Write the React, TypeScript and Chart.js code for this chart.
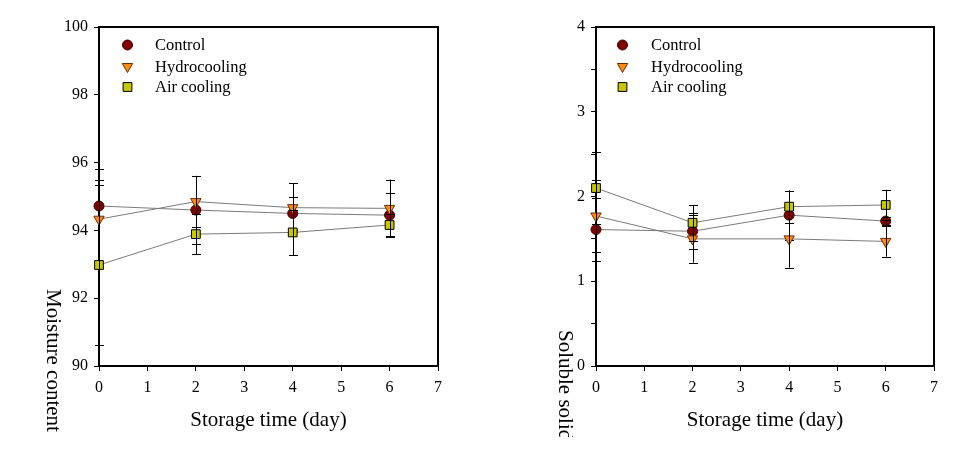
import React, { useEffect, useRef } from 'react';
import { Chart, registerables } from 'chart.js';

Chart.register(...registerables);

// ---- data ----
const days = [0, 2, 4, 6];
const seriesNames = ['Control', 'Hydrocooling', 'Air cooling'];
const xTicks = [0, 1, 2, 3, 4, 5, 6, 7];

// Moisture content
const moistControl = [94.72, 94.6, 94.5, 94.45];
const moistControlErrUp = [1.08, 0.99, 0.48, 0.65];
const moistControlErrDown = [0, 0.99, 0.48, 0.65];
const moistHydro = [94.33, 94.85, 94.67, 94.65];
const moistHydroErrUp = [1.16, 0.76, 0.72, 0.85];
const moistHydroErrDown = [0, 0.76, 0.72, 0.85];
const moistAir = [92.98, 93.89, 93.94, 94.16];
const moistAirErrUp = [2.37, 0.59, 0.67, 0.32];
const moistAirErrDown = [2.37, 0.59, 0.67, 0.32];
const moistTicks = [90, 92, 94, 96, 98, 100];

// Soluble solids
const solControl = [1.61, 1.59, 1.78, 1.71];
const solControlErr = [0.37, 0.21, 0.29, 0.05];
const solHydro = [1.77, 1.5, 1.5, 1.47];
const solHydroErr = [0.42, 0.28, 0.34, 0.18];
const solAir = [2.1, 1.69, 1.88, 1.9];
const solAirErr = [0.42, 0.21, 0.19, 0.18];
const solTicks = [0, 1, 2, 3, 4];

const xTitle = 'Storage time (day)';
const moistYTitle = 'Moisture content';
const solYTitle = 'Soluble solids';

// ---- styles ----
const SERIF = "'Liberation Serif', 'Times New Roman', serif";
const styles = [
  { fill: '#800000', border: '#3a0000', pointStyle: 'circle', radius: 5, rotation: 0 },
  { fill: '#ff8a14', border: '#6a3000', pointStyle: 'triangle', radius: 6, rotation: 180 },
  { fill: '#c8c800', border: '#000000', pointStyle: 'rect', radius: 6.2, rotation: 0 },
];

function makeDatasets(vals: number[][], up: number[][], down: number[][]) {
  return vals.map((v, s) => ({
    label: seriesNames[s],
    data: days.map((d, i) => ({ x: d, y: v[i] })),
    errUp: up[s],
    errDown: down[s],
    borderColor: '#7a7a7a',
    borderWidth: 1,
    backgroundColor: styles[s].fill,
    pointBackgroundColor: styles[s].fill,
    pointBorderColor: styles[s].border,
    pointBorderWidth: 1,
    pointStyle: styles[s].pointStyle,
    pointRadius: styles[s].radius,
    pointRotation: styles[s].rotation,
    tension: 0,
    clip: false,
    order: 3 - s,
  }));
}

const extrasPlugin = {
  id: 'extras',
  beforeDatasetsDraw(chart: any) {
    const { ctx, chartArea } = chart;
    ctx.save();
    ctx.strokeStyle = '#000';
    ctx.lineWidth = 2;
    ctx.strokeRect(chartArea.left, chartArea.top, chartArea.right - chartArea.left, chartArea.bottom - chartArea.top);
    ctx.restore();
  },
  afterDatasetDraw(chart: any, args: any) {
    const ds: any = chart.data.datasets[args.index];
    const yScale = chart.scales.y;
    const ctx = chart.ctx;
    const meta = args.meta;
    ctx.save();
    ctx.strokeStyle = '#000';
    ctx.lineWidth = 1;
    meta.data.forEach((el: any, i: number) => {
      const v = ds.data[i].y;
      const x = Math.round(el.x) + 0.5;
      const yc = yScale.getPixelForValue(v);
      const up = ds.errUp[i];
      const dn = ds.errDown[i];
      const yU = yScale.getPixelForValue(v + up);
      const yD = yScale.getPixelForValue(v - dn);
      ctx.beginPath();
      ctx.moveTo(x, dn > 0 ? yD : yc);
      ctx.lineTo(x, up > 0 ? yU : yc);
      if (up > 0) {
        const yy = Math.round(yU) + 0.5;
        ctx.moveTo(x - 4.5, yy);
        ctx.lineTo(x + 4.5, yy);
      }
      if (dn > 0) {
        const yy = Math.round(yD) + 0.5;
        ctx.moveTo(x - 4.5, yy);
        ctx.lineTo(x + 4.5, yy);
      }
      ctx.stroke();
    });
    ctx.restore();
  },
  afterDraw(chart: any, _args: any, opts: any) {
    const { ctx, chartArea } = chart;
    ctx.save();
    // x title
    ctx.fillStyle = '#000';
    ctx.font = `21px ${SERIF}`;
    ctx.textAlign = 'center';
    ctx.textBaseline = 'alphabetic';
    ctx.fillText(opts.xTitle, (chartArea.left + chartArea.right) / 2, 426);
    // y title rotated clockwise, clipped
    ctx.save();
    ctx.beginPath();
    ctx.rect(0, 0, chart.width, opts.clipBottom);
    ctx.clip();
    ctx.translate(opts.yTitleX, opts.yTitleY);
    ctx.rotate(Math.PI / 2);
    ctx.textAlign = 'left';
    ctx.fillText(opts.yTitle, 0, 0);
    ctx.restore();
    // legend
    const rows = [45, 66.5, 87];
    ctx.font = `16.5px ${SERIF}`;
    ctx.textAlign = 'left';
    ctx.textBaseline = 'middle';
    rows.forEach((ry, s) => {
      const st = styles[s];
      const mx = opts.legendX;
      ctx.fillStyle = st.fill;
      ctx.strokeStyle = st.border;
      ctx.lineWidth = 1;
      ctx.beginPath();
      if (s === 0) {
        ctx.arc(mx, ry, 5, 0, Math.PI * 2);
      } else if (s === 1) {
        const r = 6;
        ctx.moveTo(mx - r * Math.sin(Math.PI / 3), ry - r / 2);
        ctx.lineTo(mx + r * Math.sin(Math.PI / 3), ry - r / 2);
        ctx.lineTo(mx, ry + r);
        ctx.closePath();
      } else {
        ctx.rect(mx - 4.4, ry - 4.4, 8.8, 8.8);
      }
      ctx.fill();
      ctx.stroke();
      ctx.fillStyle = '#000';
      ctx.fillText(seriesNames[s], opts.textX, ry + 1);
    });
    ctx.restore();
  },
};

function buildConfig(kind: 'moist' | 'sol'): any {
  const isM = kind === 'moist';
  const datasets = isM
    ? makeDatasets(
        [moistControl, moistHydro, moistAir],
        [moistControlErrUp, moistHydroErrUp, moistAirErrUp],
        [moistControlErrDown, moistHydroErrDown, moistAirErrDown]
      )
    : makeDatasets(
        [solControl, solHydro, solAir],
        [solControlErr, solHydroErr, solAirErr],
        [solControlErr, solHydroErr, solAirErr]
      );
  const yt = isM ? moistTicks : solTicks;
  const yAxisWidth = isM ? 99 : 112;
  return {
    type: 'line',
    data: { datasets },
    plugins: [extrasPlugin],
    options: {
      animation: false,
      responsive: false,
      events: [],
      layout: { padding: { top: 27, right: isM ? 46 : 34, left: 0, bottom: 0 } },
      plugins: {
        legend: { display: false },
        tooltip: { enabled: false },
        extras: {
          xTitle,
          yTitle: isM ? moistYTitle : solYTitle,
          yTitleX: isM ? 47 : 74.5,
          yTitleY: isM ? 289 : 330,
          clipBottom: isM ? 455 : 437,
          legendX: isM ? 127.5 : 138.5,
          textX: isM ? 155 : 167,
        },
      },
      scales: {
        x: {
          type: 'linear',
          min: xTicks[0],
          max: xTicks[xTicks.length - 1],
          afterBuildTicks: (s: any) => {
            s.ticks = xTicks.map((v) => ({ value: v }));
          },
          afterFit: (s: any) => {
            s.height = 89;
          },
          grid: { drawOnChartArea: false, drawTicks: true, tickLength: 5, color: '#000', lineWidth: 1 },
          border: { display: false },
          ticks: { color: '#000', font: { family: SERIF, size: 16 }, padding: 7, maxRotation: 0, autoSkip: false },
        },
        y: {
          type: 'linear',
          min: yt[0],
          max: yt[yt.length - 1],
          afterBuildTicks: (s: any) => {
            if (isM) {
              s.ticks = yt.map((v) => ({ value: v }));
            } else {
              const arr: any[] = [];
              for (let i = 0; i < yt.length; i++) {
                arr.push({ value: yt[i] });
                if (i < yt.length - 1) arr.push({ value: yt[i] + 0.5 });
              }
              s.ticks = arr;
            }
          },
          afterFit: (s: any) => {
            s.width = yAxisWidth;
          },
          grid: { drawOnChartArea: false, drawTicks: true, tickLength: 5, color: '#000', lineWidth: 1 },
          border: { display: false },
          ticks: {
            color: '#000',
            font: { family: SERIF, size: 16 },
            padding: 6,
            autoSkip: false,
            callback: (v: number) => (Number.isInteger(v) ? String(v) : ''),
          },
        },
      },
    },
  };
}

function ChartCanvas({ kind, left }: { kind: 'moist' | 'sol'; left: number }) {
  const ref = useRef<HTMLCanvasElement | null>(null);
  useEffect(() => {
    if (!ref.current) return;
    const chart = new Chart(ref.current, buildConfig(kind));
    return () => chart.destroy();
  }, [kind]);
  return (
    <canvas
      ref={ref}
      width={484}
      height={455}
      style={{ position: 'absolute', left, top: 0, width: 484, height: 455, display: 'block' }}
    />
  );
}

export default function App() {
  return (
    <div style={{ position: 'fixed', left: 0, top: 0, width: 968, height: 455, background: '#fff', overflow: 'hidden' }}>
      <ChartCanvas kind="moist" left={0} />
      <ChartCanvas kind="sol" left={484} />
    </div>
  );
}
